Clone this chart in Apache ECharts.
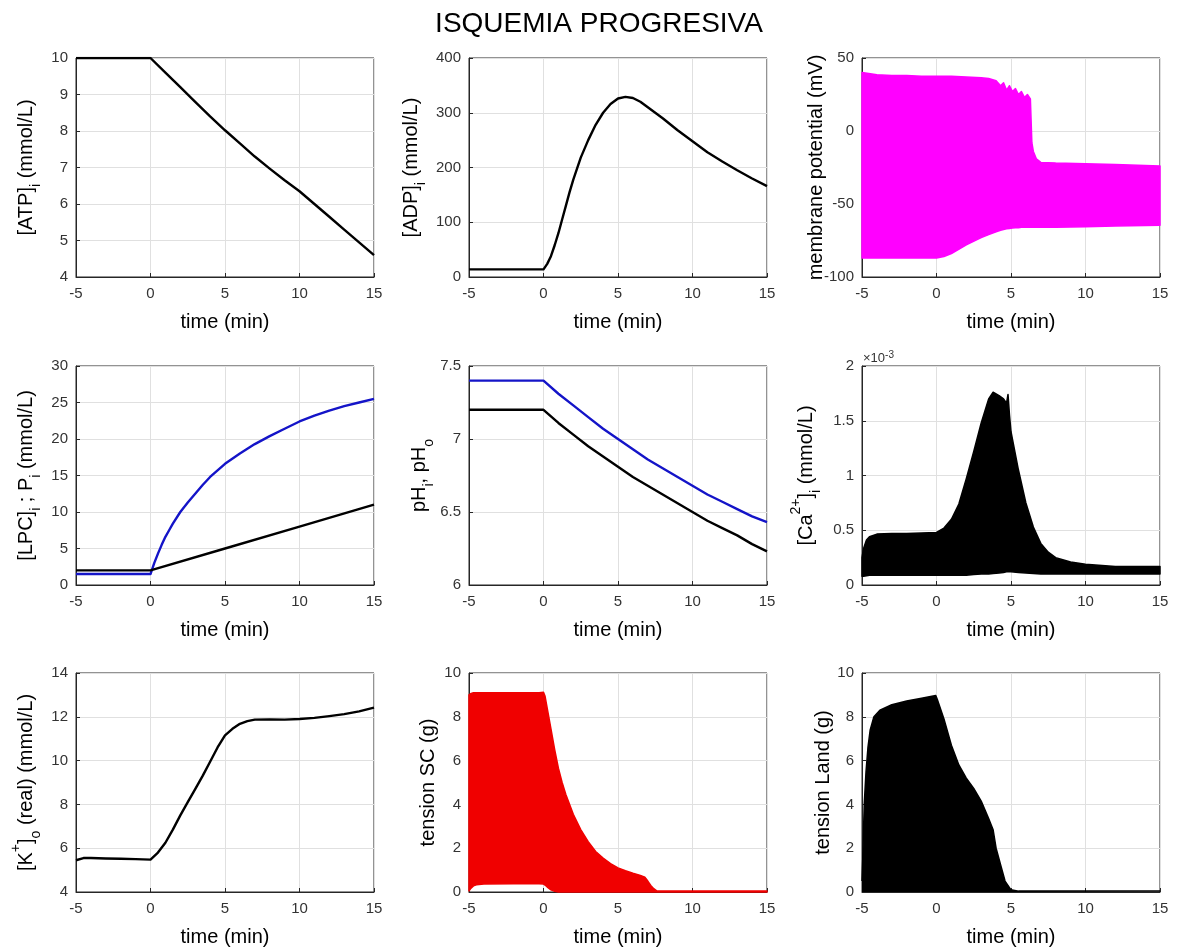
<!DOCTYPE html>
<html>
<head>
<meta charset="utf-8">
<title>Isquemia progresiva</title>
<script src="https://cdn.jsdelivr.net/npm/echarts@6/dist/echarts.min.js"></script>
<style>
  html, body { margin: 0; padding: 0; background: #fff; }
  #chart { width: 1177px; height: 951px; }
</style>
</head>
<body>
<div id="chart"></div>
<script>
// time axis (min), shared by all panels
const timeMin = -5, timeMax = 15, timeStep = 5;

// [ATP]i (mmol/L)
const atpT = [-5, 0, 1, 2, 3, 4, 5, 6, 7, 8, 9, 10, 11, 12, 13, 14, 15];
const atpV = [10, 10, 9.6, 9.2, 8.8, 8.4, 8.02, 7.66, 7.3, 6.97, 6.65, 6.35, 6.0, 5.65, 5.3, 4.95, 4.6];

// [ADP]i (mmol/L)
const adpT = [-5, 0, 0.25, 0.5, 0.75, 1, 1.25, 1.5, 1.75, 2, 2.5, 3, 3.5, 4, 4.5, 5, 5.5, 6, 6.5, 7, 8, 9, 10, 11, 12, 13, 14, 15];
const adpV = [14, 14, 24, 38, 58, 80, 105, 130, 155, 178, 218, 250, 278, 300, 316, 326, 329, 327, 320, 310, 290, 268, 248, 228, 211, 195, 180, 166];

// membrane potential (mV): envelope of the oscillation
const mpT = [-5, -4, -3, -2, -1, 0, 0.5, 1, 2, 3, 3.5, 4, 4.3, 4.5, 4.7, 4.9, 5.1, 5.3, 5.5, 5.7, 5.9, 6.1, 6.3, 6.4, 6.5, 6.7, 7, 8, 10, 12, 15];
const mpHi = [40, 38.5, 38, 38, 37.5, 37.5, 37.5, 37.5, 37, 36.5, 36, 34.5, 31, 33, 28, 31, 27, 29, 25, 27, 23, 25, 22, -8, -14, -19, -21.5, -22, -22.5, -23, -24];
const mpLo = [-87, -87, -87, -87, -87, -87, -86, -84, -78, -73, -71, -69, -68, -67.5, -67, -66.8, -66.5, -66.3, -66.2, -66, -66, -66, -66, -66, -66, -66, -66, -66, -65.5, -65, -64.5];

// [LPC]i (black) and Pi (blue), mmol/L
const lpcT = [-5, 0, 5, 10, 15];
const lpcV = [2, 2, 5, 8, 11];
const piT = [-5, 0, 0.25, 0.5, 0.75, 1, 1.25, 1.5, 2, 2.5, 3, 3.5, 4, 5, 6, 7, 8, 9, 10, 11, 12, 13, 14, 15];
const piV = [1.5, 1.5, 3.0, 4.3, 5.5, 6.6, 7.5, 8.4, 10, 11.3, 12.5, 13.7, 14.8, 16.6, 18, 19.3, 20.4, 21.4, 22.4, 23.2, 23.9, 24.5, 25.0, 25.5];

// pHi (black) and pHo (blue)
const phT = [-5, 0, 1, 2, 3, 4, 5, 6, 7, 8, 9, 10, 11, 12, 13, 14, 15];
const phoV = [7.4, 7.4, 7.31, 7.23, 7.15, 7.07, 7.0, 6.93, 6.86, 6.8, 6.74, 6.68, 6.62, 6.57, 6.52, 6.47, 6.43];
const phiV = [7.2, 7.2, 7.11, 7.03, 6.95, 6.88, 6.81, 6.74, 6.68, 6.62, 6.56, 6.5, 6.44, 6.39, 6.34, 6.28, 6.23];

// [Ca2+]i (x1e-3 mmol/L): envelope of the oscillation
const caT = [-5, -4.9, -4.7, -4.5, -4, -3, -2, -1, 0, 0.5, 1, 1.5, 2, 2.5, 3, 3.5, 3.8, 4.2, 4.5, 4.7, 4.8, 4.9, 5, 5.5, 6, 6.5, 7, 7.5, 8, 9, 10, 12, 15];
const caHi = [0.25, 0.33, 0.41, 0.44, 0.465, 0.47, 0.47, 0.475, 0.48, 0.52, 0.6, 0.74, 0.97, 1.22, 1.48, 1.7, 1.76, 1.73, 1.7, 1.66, 1.74, 1.55, 1.4, 1.05, 0.75, 0.53, 0.38, 0.3, 0.25, 0.21, 0.19, 0.17, 0.17];
const caLo = [0.08, 0.08, 0.085, 0.09, 0.09, 0.09, 0.09, 0.09, 0.09, 0.09, 0.09, 0.09, 0.09, 0.095, 0.1, 0.1, 0.105, 0.11, 0.115, 0.12, 0.12, 0.12, 0.12, 0.115, 0.11, 0.105, 0.1, 0.1, 0.1, 0.1, 0.1, 0.1, 0.1];

// [K+]o real (mmol/L)
const kT = [-5, -4.5, -4, -3, -2, -1, 0, 0.5, 1, 1.5, 2, 2.5, 3, 3.5, 4, 4.5, 5, 5.5, 6, 6.5, 7, 8, 9, 10, 11, 12, 13, 14, 15];
const kV = [5.45, 5.55, 5.55, 5.53, 5.52, 5.5, 5.48, 5.8, 6.25, 6.85, 7.5, 8.1, 8.7, 9.3, 9.95, 10.6, 11.15, 11.45, 11.68, 11.8, 11.87, 11.88, 11.87, 11.9, 11.95, 12.03, 12.12, 12.25, 12.42];

// tension SC (g): envelope of the oscillation
const scT = [-5, -4.9, -4.7, -4.5, -4, -2, -0.3, 0, 0.1, 0.3, 0.5, 0.75, 1, 1.25, 1.5, 2, 2.5, 3, 3.5, 4, 4.5, 5, 5.5, 6, 6.5, 6.8, 7, 7.2, 7.4, 7.6, 8, 10, 15];
const scHi = [9.0, 9.05, 9.1, 9.1, 9.1, 9.1, 9.1, 9.12, 8.95, 8.2, 7.45, 6.5, 5.65, 5.0, 4.45, 3.55, 2.85, 2.3, 1.85, 1.55, 1.3, 1.1, 0.97, 0.86, 0.76, 0.68, 0.5, 0.3, 0.15, 0.05, 0.04, 0.04, 0.04];
const scLo = [0.05, 0.15, 0.28, 0.33, 0.37, 0.38, 0.38, 0.36, 0.32, 0.2, 0.1, 0.03, 0, 0, 0, 0, 0, 0, 0, 0, 0, 0, 0, 0, 0, 0, 0, 0, 0, 0, 0, 0, 0];

// tension Land (g): upper envelope (lower is zero)
const ldT = [-5, -4.95, -4.85, -4.73, -4.6, -4.45, -4.2, -3.8, -3, -2, -1, -0.05, 0.05, 0.5, 1, 1.5, 2, 2.5, 3, 3.5, 3.8, 4, 4.3, 4.6, 5, 5.5, 15];
const ldV = [0.5, 1.5, 4.0, 5.5, 6.6, 7.4, 8.0, 8.3, 8.55, 8.72, 8.85, 8.97, 8.8, 7.9, 6.7, 5.8, 5.2, 4.73, 4.15, 3.35, 2.84, 2.0, 1.25, 0.5, 0.1, 0.04, 0.04];

const FONT = '"Liberation Sans", Arial, Helvetica, sans-serif';
const AXIS = '#262626';

const colLeft = [76, 469, 862];
const rowTop = [58, 366, 673];
const plotW = 298, plotH = 219;

const panels = [
  { row: 0, col: 0, min: 4, max: 10, step: 1, name: '[ATP]{sub|i} (mmol/L)', gap: 33 },
  { row: 0, col: 1, min: 0, max: 400, step: 100, name: '[ADP]{sub|i} (mmol/L)', gap: 41 },
  { row: 0, col: 2, min: -100, max: 50, step: 50, name: 'membrane potential (mV)', gap: 29 },
  { row: 1, col: 0, min: 0, max: 30, step: 5, name: '[LPC]{sub|i} ; P{sub|i} (mmol/L)', gap: 33 },
  { row: 1, col: 1, min: 6, max: 7.5, step: 0.5, name: 'pH{sub|i}, pH{sub|o}', gap: 33 },
  { row: 1, col: 2, min: 0, max: 2, step: 0.5, name: '[Ca{sup|2+}]{sub|i} (mmol/L)', gap: 39 },
  { row: 2, col: 0, min: 4, max: 14, step: 2, name: '[K{sup|+}]{sub|o} (real) (mmol/L)', gap: 33 },
  { row: 2, col: 1, min: 0, max: 10, step: 2, name: 'tension SC (g)', gap: 24 },
  { row: 2, col: 2, min: 0, max: 10, step: 2, name: 'tension Land (g)', gap: 22 }
];

const pairs = (t, v) => t.map((x, k) => [x, v[k]]);

function lineSeries(i, t, v, color, width) {
  return {
    type: 'line', xAxisIndex: i, yAxisIndex: i,
    data: pairs(t, v),
    symbol: 'none',
    lineStyle: { color: color, width: width, join: 'round' },
    itemStyle: { color: color },
    silent: true
  };
}

// filled band between the lower and upper envelope of an oscillating trace
function bandSeries(i, t, lo, hi, color) {
  return {
    type: 'custom', xAxisIndex: i, yAxisIndex: i,
    data: t.map((x, k) => [x, lo[k], hi[k]]),
    encode: { x: 0, y: [1, 2] },
    silent: true,
    renderItem: function (params, api) {
      if (params.dataIndex !== 0) return null;
      const pts = [];
      for (let k = 0; k < t.length; k++) pts.push(api.coord([t[k], hi[k]]));
      for (let k = t.length - 1; k >= 0; k--) pts.push(api.coord([t[k], lo[k]]));
      return {
        type: 'polygon',
        shape: { points: pts },
        style: { fill: color, stroke: color, lineWidth: 1.5, lineJoin: 'round' }
      };
    }
  };
}

const richName = {
  sub: { fontSize: 14, lineHeight: 14, verticalAlign: 'bottom', fontFamily: FONT, color: '#000' },
  sup: { fontSize: 14, lineHeight: 14, verticalAlign: 'top', fontFamily: FONT, color: '#000' }
};

const grids = panels.map(p => ({
  left: colLeft[p.col], top: rowTop[p.row], width: plotW, height: plotH,
  show: true, borderColor: AXIS, borderWidth: 1, backgroundColor: '#fff'
}));

const xAxes = panels.map((p, i) => ({
  gridIndex: i, type: 'value', min: timeMin, max: timeMax, interval: timeStep,
  name: 'time (min)', nameLocation: 'middle', nameGap: 35, nameMoveOverlap: false,
  nameTextStyle: { fontSize: 20, fontFamily: FONT, color: '#000' },
  axisLine: { show: true, onZero: false, lineStyle: { color: AXIS } },
  axisTick: { show: true, inside: true, length: 4, lineStyle: { color: AXIS } },
  axisLabel: { fontSize: 15, fontFamily: FONT, color: '#333', margin: 9 },
  splitLine: { show: true, lineStyle: { color: '#e0e0e0' } }
}));

const yAxes = panels.map((p, i) => ({
  gridIndex: i, type: 'value', min: p.min, max: p.max, interval: p.step,
  name: p.name, nameLocation: 'middle', nameRotate: 90, nameGap: p.gap, nameMoveOverlap: false,
  nameTextStyle: { fontSize: 20, fontFamily: FONT, color: '#000', lineHeight: 34, rich: richName },
  axisLine: { show: true, onZero: false, lineStyle: { color: AXIS } },
  axisTick: { show: true, inside: true, length: 4, lineStyle: { color: AXIS } },
  axisLabel: { fontSize: 15, fontFamily: FONT, color: '#333', margin: 8 },
  splitLine: { show: true, lineStyle: { color: '#e0e0e0' } }
}));

const series = [
  lineSeries(0, atpT, atpV, '#000', 2.4),
  lineSeries(1, adpT, adpV, '#000', 2.4),
  bandSeries(2, mpT, mpLo, mpHi, '#ff00ff'),
  lineSeries(3, piT, piV, '#1414c8', 2.4),
  lineSeries(3, lpcT, lpcV, '#000', 2.4),
  lineSeries(4, phT, phoV, '#1414c8', 2.4),
  lineSeries(4, phT, phiV, '#000', 2.4),
  bandSeries(5, caT, caLo, caHi, '#000'),
  lineSeries(6, kT, kV, '#000', 2.4),
  bandSeries(7, scT, scLo, scHi, '#f00000'),
  Object.assign(lineSeries(8, ldT, ldV, '#000', 1.5), { areaStyle: { color: '#000', opacity: 1 } })
];

const chart = echarts.init(document.getElementById('chart'), null, { renderer: 'canvas' });
chart.setOption({
  animation: false,
  backgroundColor: '#fff',
  title: {
    text: 'ISQUEMIA PROGRESIVA',
    left: 594, top: 5, textAlign: 'center',
    textStyle: { fontSize: 28, fontWeight: 'normal', fontFamily: FONT, color: '#000' }
  },
  grid: grids,
  xAxis: xAxes,
  yAxis: yAxes,
  series: series,
  graphic: [{
    type: 'text', x: 863, y: 350,
    style: {
      text: '×10{sup|-3}', fontSize: 13, fontFamily: FONT, fill: '#333', lineHeight: 16,
      rich: { sup: { fontSize: 10, lineHeight: 10, verticalAlign: 'top', fontFamily: FONT, color: '#333' } }
    }
  }]
});
</script>
</body>
</html>
